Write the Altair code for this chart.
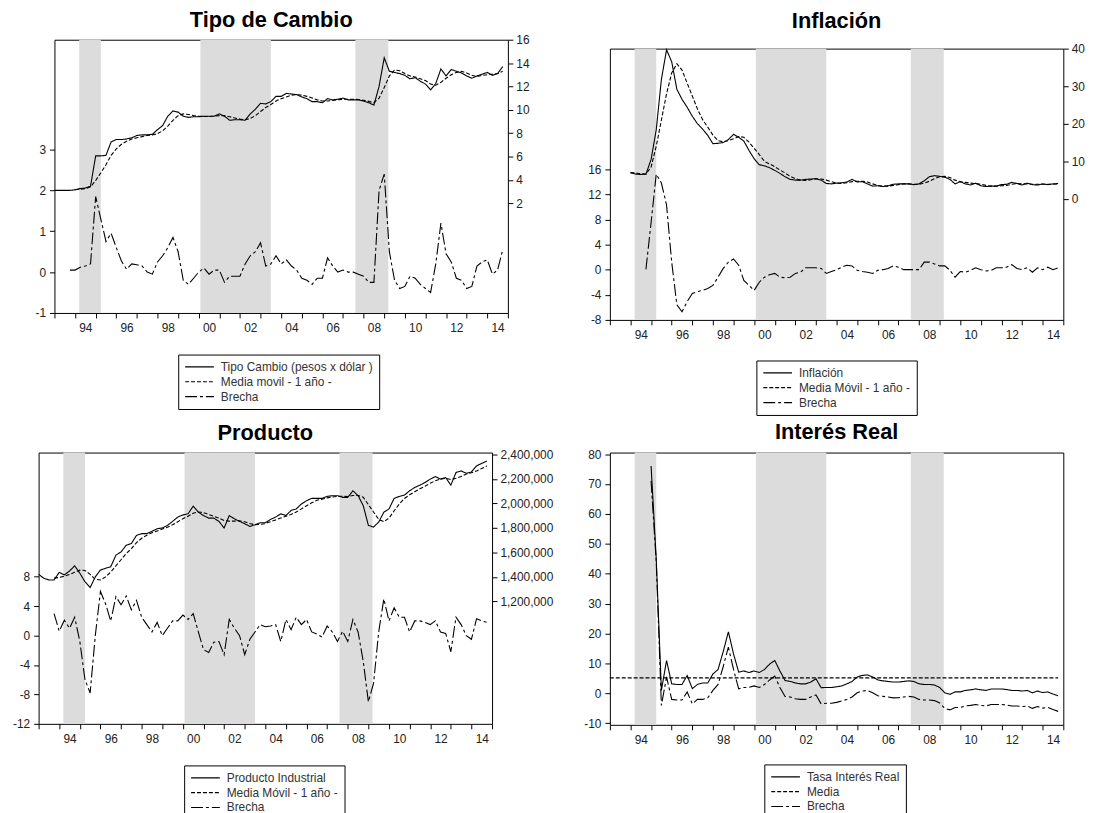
import altair as alt
import pandas as pd

FONT = "Liberation Sans"

# ---------------- shared: recession shading (years) ----------------
band_start = [1994.2, 2000.08, 2007.6]
band_end = [1995.25, 2003.5, 2009.2]

# ---------------- Tipo de Cambio ----------------
tc_names = ["Tipo Cambio (pesos x dólar )", "Media movil - 1 año -", "Brecha"]
tc_start = 1993.0
tc = [3.1, 3.1, 3.1, 3.1,
      3.15, 3.25, 3.3, 3.45,
      6.05, 6.05, 6.1, 7.25,
      7.45, 7.45, 7.5, 7.6,
      7.8, 7.85, 7.85, 7.9,
      8.3, 8.65, 9.45, 9.9,
      9.8, 9.45, 9.35, 9.4,
      9.4, 9.45, 9.45, 9.45,
      9.65, 9.45, 9.1, 9.15,
      9.15, 9.1, 9.65, 10.05,
      10.55, 10.5, 10.7, 11.15,
      11.15, 11.4, 11.35, 11.3,
      11.1, 10.95, 10.7, 10.7,
      10.6, 10.95, 10.85, 10.9,
      11.0, 10.85, 10.85, 10.85,
      10.75, 10.6, 10.4, 12.0,
      14.45, 13.3, 13.2, 13.1,
      12.95, 12.65, 12.75, 12.45,
      12.2, 11.7, 12.25, 13.5,
      12.9, 13.45, 13.3, 13.15,
      12.9, 12.7, 12.9, 13.05,
      13.2, 12.95, 13.1, 13.7]
tc_ma_start = 1994.0
tc_ma = [3.15, 3.2, 3.25, 3.4,
         3.95, 4.6, 5.3, 6.1,
         6.65, 7.05, 7.3, 7.5,
         7.6, 7.7, 7.8, 7.85,
         7.95, 8.2, 8.6, 9.1,
         9.5, 9.65, 9.6, 9.5,
         9.45, 9.42, 9.42, 9.45,
         9.5, 9.5, 9.4, 9.3,
         9.2, 9.15, 9.25, 9.5,
         9.85, 10.2, 10.45, 10.75,
         10.95, 11.1, 11.25, 11.3,
         11.25, 11.15, 11.0, 10.85,
         10.75, 10.75, 10.8, 10.85,
         10.9, 10.9, 10.9, 10.88,
         10.82, 10.72, 10.6, 11.0,
         11.9, 12.9, 13.4, 13.35,
         13.1, 12.9, 12.8, 12.65,
         12.5, 12.2, 12.1, 12.35,
         12.7, 13.0, 13.2, 13.3,
         13.15, 12.95, 12.85, 12.95,
         13.0, 13.05, 13.1, 13.3]
tc_gap_start = 1993.75
tc_gap = [0.05,
          0.05, 0.12, 0.15, 0.2,
          1.85, 1.3, 0.75, 0.95,
          0.6, 0.27, 0.07, 0.2,
          0.18, 0.15, 0.0, -0.05,
          0.25, 0.4, 0.6, 0.85,
          0.5, -0.2, -0.3, -0.15,
          0.0, 0.1, -0.05, 0.05,
          0.05, -0.25, -0.1, -0.1,
          -0.1, 0.2, 0.4, 0.5,
          0.72, 0.15, 0.2, 0.4,
          0.2, 0.3, 0.15, 0.05,
          -0.15, -0.2, -0.3, -0.15,
          -0.15, 0.35, 0.15, 0.0,
          0.05, 0.0, 0.0, -0.05,
          -0.1, -0.25, -0.25, 2.0,
          2.4, 0.5, -0.2, -0.4,
          -0.35, -0.1, -0.15, -0.3,
          -0.4, -0.5, 0.2, 1.2,
          0.45, 0.25, -0.15, -0.2,
          -0.4, -0.35, 0.15, 0.25,
          0.3, -0.05, 0.05, 0.55]

# ---------------- Inflación ----------------
inf_names = ["Inflación", "Media Móvil - 1 año -", "Brecha"]
inf_start = 1994.0
inf = [7.0, 6.6, 6.5, 6.6,
       10.5, 18.4, 31.8, 39.7,
       36.5, 29.2, 26.5, 24.4,
       22.0, 20.0, 18.6, 16.9,
       14.7, 14.8, 15.0, 15.8,
       17.2, 16.4, 15.4, 12.9,
       10.7, 9.1, 8.8, 8.3,
       7.6, 6.8, 5.9, 5.2,
       5.0, 5.0, 5.2, 5.3,
       5.4, 5.0, 4.1, 4.0,
       4.2, 4.3, 4.5, 5.2,
       4.5, 4.6, 4.0, 3.4,
       3.5, 3.3, 3.5, 3.9,
       4.0, 4.0, 4.0, 3.8,
       4.0, 4.8, 5.9, 6.2,
       6.0, 5.8, 5.2, 4.0,
       4.6, 4.0, 3.7, 4.2,
       3.5, 3.3, 3.4, 3.4,
       3.8, 3.9, 4.4, 4.1,
       3.7, 4.2, 3.8, 3.7,
       4.0, 3.8, 4.0, 4.1]
inf_ma_start = 1994.0
inf_ma = [7.0, 6.9, 6.7, 6.6,
          8.5, 14.0, 21.0, 28.0,
          33.5, 36.0, 34.3, 30.8,
          27.4, 23.9, 21.1, 19.1,
          17.0, 15.5, 15.2, 15.5,
          16.0, 16.6, 16.4, 15.1,
          13.5, 11.8, 10.0, 9.3,
          8.6, 7.7, 6.9, 6.0,
          5.4, 5.0, 4.9, 5.1,
          5.3, 5.3, 5.0, 4.6,
          4.2, 4.1, 4.3, 4.6,
          4.7, 4.7, 4.5, 4.0,
          3.6, 3.4, 3.4, 3.6,
          3.8, 4.0, 4.0, 3.9,
          3.9, 4.2, 4.7, 5.4,
          5.9, 6.0, 5.7, 5.0,
          4.6, 4.4, 4.2, 4.1,
          3.9, 3.6, 3.4, 3.4,
          3.5, 3.6, 3.9, 4.1,
          4.0, 4.0, 3.9, 3.9,
          3.9, 3.9, 3.9, 4.0]
inf_gap_start = 1994.75
inf_gap = [0.05,
           7.5, 15.2, 13.8, 10.3,
           1.2, -5.6, -6.7, -5.1,
           -3.8, -3.5, -3.3, -3.0,
           -2.5, -1.2, 0.2, 1.2,
           1.7, 0.7, -1.7, -2.5,
           -3.3, -2.0, -1.2, -0.8,
           -0.6, -1.2, -1.3, -1.2,
           -0.6, -0.4, 0.3, 0.3,
           0.3, 0.2, -0.6, -0.3,
           0.0, 0.4, 0.7, 0.6,
           -0.1, -0.3, -0.4, -0.6,
           -0.1, 0.0, 0.2, 0.6,
           0.4, 0.0, 0.0, 0.0,
           0.0, 1.2, 1.2, 0.9,
           0.6, 0.6, -0.1, -1.2,
           -0.3, -0.4, -0.1, 0.3,
           0.0, -0.2, -0.1, 0.3,
           0.3, 0.4, 0.8, 0.2,
           0.0, 0.3, -0.4, 0.3,
           0.0, 0.4, 0.0, 0.3]

# ---------------- Producto ----------------
pr_names = ["Producto Industrial", "Media Móvil - 1 año -", "Brecha"]
pr_start = 1993.0
pr = [1421000, 1389000, 1375000, 1375000,
      1437000, 1416000, 1448000, 1490000,
      1430000, 1360000, 1313000, 1400000,
      1456000, 1470000, 1483000, 1577000,
      1604000, 1658000, 1672000, 1739000,
      1753000, 1753000, 1772000, 1793000,
      1799000, 1820000, 1853000, 1888000,
      1906000, 1915000, 1977000, 1928000,
      1901000, 1880000, 1880000, 1853000,
      1799000, 1901000, 1874000, 1853000,
      1834000, 1812000, 1826000, 1842000,
      1842000, 1869000, 1888000, 1915000,
      1901000, 1942000, 1955000, 1995000,
      2022000, 2041000, 2041000, 2041000,
      2057000, 2063000, 2063000, 2049000,
      2049000, 2103000, 2063000, 1982000,
      1820000, 1807000, 1847000, 1928000,
      1955000, 2041000, 2057000, 2068000,
      2103000, 2130000, 2149000, 2171000,
      2198000, 2219000, 2198000, 2211000,
      2149000, 2252000, 2265000, 2246000,
      2257000, 2306000, 2327000, 2346000]
pr_ma_start = 1993.75
pr_ma = [1390000,
         1395000, 1405000, 1420000, 1437000,
         1455000, 1452000, 1420000, 1380000,
         1375000, 1400000, 1440000, 1490000,
         1540000, 1590000, 1630000, 1680000,
         1715000, 1740000, 1760000, 1775000,
         1790000, 1805000, 1825000, 1850000,
         1875000, 1895000, 1920000, 1930000,
         1925000, 1910000, 1895000, 1880000,
         1860000, 1855000, 1855000, 1858000,
         1850000, 1835000, 1825000, 1828000,
         1835000, 1850000, 1865000, 1880000,
         1895000, 1910000, 1930000, 1955000,
         1980000, 2005000, 2025000, 2035000,
         2045000, 2052000, 2057000, 2058000,
         2056000, 2065000, 2065000, 2050000,
         1990000, 1930000, 1870000, 1850000,
         1880000, 1940000, 1995000, 2040000,
         2070000, 2095000, 2120000, 2140000,
         2165000, 2185000, 2200000, 2205000,
         2195000, 2205000, 2220000, 2240000,
         2250000, 2265000, 2285000, 2305000]
pr_gap_start = 1993.75
pr_gap = [3.0,
          0.6, 2.1, 1.0, 2.5,
          -0.8, -6.0, -7.8, 0.0,
          6.0, 4.3, 2.0, 5.3,
          4.2, 5.4, 3.5, 4.8,
          2.5, 1.5, 0.5, 1.8,
          0.0, 1.0, 2.0, 2.0,
          2.8, 2.2, 3.0, 0.5,
          -1.9, -2.3, -0.9, -0.8,
          -2.6, 2.2, 1.0, 0.0,
          -2.6, -0.5, 0.5, 1.5,
          1.2, 1.3, 1.5, -0.8,
          2.2, 0.8, 2.5, 1.5,
          2.2, 0.5, 0.2, -0.2,
          1.3, 0.5, -0.8, 0.6,
          -0.8, 2.2, 0.5, -3.5,
          -9.0, -6.5, 0.5, 5.0,
          2.0, 3.8, 2.5, 2.5,
          0.5, 2.0, 2.0, 1.8,
          1.5, 2.0, 0.5, 0.3,
          -2.2, 2.5, 1.5, 0.0,
          -0.5, 2.3, 2.0, 1.8]

# ---------------- Interés Real ----------------
ir_names = ["Tasa Interés Real", "Media", "Brecha"]
ir_start = 1995.0
ir = [76, 45, 1.0, 11,
      3.2, 3, 3, 6,
      1.6, 3, 3.5, 3.5,
      6.5, 8, 14, 20.6,
      13.2, 7.1, 7.5, 7,
      7.5, 7, 8, 9.8,
      11, 7.5, 4.3, 4,
      3.5, 3.2, 3.2, 3.8,
      4.9, 1.9, 2, 2,
      2.2, 2.5, 3.2, 4,
      5.5, 6, 6.2, 5.5,
      4.5, 4.2, 4, 3.8,
      3.8, 4, 4.2, 4,
      3.2, 3, 3, 2.8,
      2.0, 0.2, -0.3, 0.5,
      0.5, 1.0, 1.2, 1.5,
      1.2, 1.0, 1.5, 1.5,
      1.5, 1.3, 1.0, 1.0,
      0.8, 1.0, 0.2, 0.8,
      0.3, 0.5, -0.2, -0.8]
ir_mean_t = [1993.0, 2014.75]
ir_mean = [5.2, 5.2]
ir_gap_start = 1995.0
ir_gap = [71, 44, -4, 5.5,
          -2, -2.2, -2.2, 0.5,
          -3.5, -2, -2, -1.5,
          1, 3, 9, 15.5,
          8, 1.5, 2, 2,
          2.5, 2, 3, 4.5,
          5.8, 2, -1, -1.2,
          -1.8, -2, -2, -1.2,
          -0.5, -3.5, -3.3, -3.3,
          -3, -2.5, -2, -1.2,
          0.2, 0.8, 1, 0.2,
          -0.8, -1, -1.2, -1.5,
          -1.4, -1.2, -1, -1.2,
          -2, -2.2, -2.2, -2.4,
          -3.2, -5, -5.5, -4.7,
          -4.7, -4.2, -4, -3.7,
          -4, -4.2, -3.7, -3.7,
          -3.7, -3.9, -4.2, -4.2,
          -4.4, -4.2, -5, -4.4,
          -4.9, -4.7, -5.4, -6]

# ---------------- helpers ----------------
PW = 458
YEARS = list(range(1993, 2016))
DASHES = [[1, 0], [4, 2], [12, 3, 3, 3]]
LW = 1.1
LABEL_EXPR = ("datum.value % 2 == 0 ? "
              "(((datum.value % 100) < 10) ? '0' : '') + (datum.value % 100) : ''")
MINUS_EXPR = "replace(datum.label, '\u2212', '-')"


def qdf(name, start, values):
    return pd.DataFrame({"t": [start + 0.25 * i for i in range(len(values))],
                         "v": values, "serie": name})


def x_enc(field):
    return alt.X(f"{field}:Q",
                 scale=alt.Scale(domain=[1993, 2015], nice=False, zero=False),
                 axis=alt.Axis(values=YEARS, labelExpr=LABEL_EXPR,
                               labelOffset=PW / 22 / 2, tickSize=5,
                               tickColor="black", tickWidth=1, labelPadding=5,
                               labelFontSize=12, labelFont=FONT,
                               labelColor="#222", labelOverlap=False,
                               labelFlush=False, domain=False, grid=False,
                               title=None))


def y_axis(orient, values, fmt=""):
    kw = dict(orient=orient, values=values, tickSize=5, tickColor="black",
              tickWidth=1, labelPadding=4 if orient == "left" else 3,
              labelFontSize=12, labelFont=FONT,
              labelColor="#222", domain=False, grid=False, title=None,
              labelOverlap=False, minExtent=30, labelExpr=MINUS_EXPR)
    if fmt:
        kw["format"] = fmt
    return alt.Axis(**kw)


def make_legend(lx, ly):
    return alt.Legend(orient="none", legendX=lx, legendY=ly, title=None,
                      direction="vertical", symbolType="stroke",
                      symbolSize=841, symbolStrokeWidth=1.2,
                      symbolStrokeColor="black", labelFont=FONT,
                      labelFontSize=12, labelColor="#333", labelOffset=6,
                      strokeColor="black", fillColor="white", padding=6,
                      rowPadding=2, clipHeight=13, symbolOffset=0)


def bands():
    df = pd.DataFrame({"a": band_start, "b": band_end})
    return alt.Chart(df).mark_rect(color="#dcdcdc").encode(x=x_enc("a"), x2="b")


def title_p(text, offset, dx=0):
    return alt.TitleParams(text=text, font=FONT, fontSize=22, fontWeight="bold",
                           color="black", anchor="middle", frame="group",
                           offset=offset, dx=dx)


def dual_panel(names, level_df, gap_df, left_dom, left_vals, right_dom,
               right_vals, right_fmt, lx, ly, h):
    sd = alt.StrokeDash("serie:N",
                        scale=alt.Scale(domain=names, range=DASHES),
                        legend=make_legend(lx, ly))
    gap = alt.Chart(gap_df).mark_line(color="black", strokeWidth=LW).encode(
        x=x_enc("t"),
        y=alt.Y("v:Q", scale=alt.Scale(domain=left_dom, nice=False, zero=False),
                axis=y_axis("left", left_vals)),
        strokeDash=sd)
    lvl = alt.Chart(level_df).mark_line(color="black", strokeWidth=LW).encode(
        x=x_enc("t"),
        y=alt.Y("v:Q", scale=alt.Scale(domain=right_dom, nice=False, zero=False),
                axis=y_axis("right", right_vals, right_fmt)),
        strokeDash=sd)
    return alt.layer(bands(), gap, lvl).resolve_scale(y="independent").properties(
        width=PW, height=h)


def spacer(w, h, title=None):
    c = alt.Chart(alt.Data(values=[])).mark_point().encode(
        x=alt.X("v:Q", axis=None), y=alt.Y("v:Q", axis=None))
    props = dict(width=w, height=h, view=alt.ViewBackground(stroke="transparent"))
    if title is not None:
        props["title"] = title
    return c.properties(**props)


def indep(c):
    return c.resolve_scale(strokeDash="independent").resolve_legend(
        strokeDash="independent")


# ---------------- panels ----------------
tl = dual_panel(
    tc_names,
    pd.concat([qdf(tc_names[0], tc_start, tc), qdf(tc_names[1], tc_ma_start, tc_ma)]),
    qdf(tc_names[2], tc_gap_start, tc_gap),
    [-1, 5.69], [-1, 0, 1, 2, 3],
    [-7.4, 16], [2, 4, 6, 8, 10, 12, 14, 16], "",
    125, 318, 276).properties(title=title_p("Tipo de Cambio", 2, -10))

tr = dual_panel(
    inf_names,
    pd.concat([qdf(inf_names[0], inf_start, inf), qdf(inf_names[1], inf_ma_start, inf_ma)]),
    qdf(inf_names[2], inf_gap_start, inf_gap),
    [-8, 35.2], [-8, -4, 0, 4, 8, 12, 16],
    [-32.2, 40], [0, 10, 20, 30, 40], "",
    148, 315, 274)

bl = dual_panel(
    pr_names,
    pd.concat([qdf(pr_names[0], pr_start, pr), qdf(pr_names[1], pr_ma_start, pr_ma)]),
    qdf(pr_names[2], pr_gap_start, pr_gap),
    [-12, 24.9], [-12, -8, -4, 0, 4, 8],
    [200000, 2415000], [1200000, 1400000, 1600000, 1800000, 2000000, 2200000, 2400000],
    ",.0f", 147, 316, 274).properties(title=title_p("Producto", 4))

ir_sd = alt.StrokeDash("serie:N", scale=alt.Scale(domain=ir_names, range=DASHES),
                       legend=make_legend(156, 315))
ir_df = pd.concat([
    qdf(ir_names[0], ir_start, ir),
    pd.DataFrame({"t": ir_mean_t, "v": ir_mean, "serie": ir_names[1]}),
    qdf(ir_names[2], ir_gap_start, ir_gap)])
ir_lines = alt.Chart(ir_df).mark_line(color="black", strokeWidth=LW).encode(
    x=x_enc("t"),
    y=alt.Y("v:Q", scale=alt.Scale(domain=[-10.5, 80.5], nice=False, zero=False),
            axis=y_axis("left", list(range(-10, 81, 10)))),
    strokeDash=ir_sd)
br = alt.layer(bands(), ir_lines).properties(
    width=PW, height=275, title=title_p("Interés Real", 4))

# ---------------- layout ----------------
tl_wrap = indep(alt.hconcat(spacer(1, 1), tl, spacing=-17))
left_col = indep(alt.vconcat(tl_wrap, bl, spacing=11))
tr_wrap = indep(alt.vconcat(spacer(PW, 1, title_p("Inflación", 6.5)), tr, spacing=0))
right_col = indep(alt.vconcat(tr_wrap, br, spacing=5))

chart = indep(alt.hconcat(left_col, right_col, spacing=26)).properties(
    padding={"left": 8, "top": 4, "right": 0, "bottom": -6},
    background="white",
).configure(font=FONT).configure_view(stroke="black", strokeWidth=1)

chart.save("out.html", embed_options={"renderer": "svg", "actions": False})
